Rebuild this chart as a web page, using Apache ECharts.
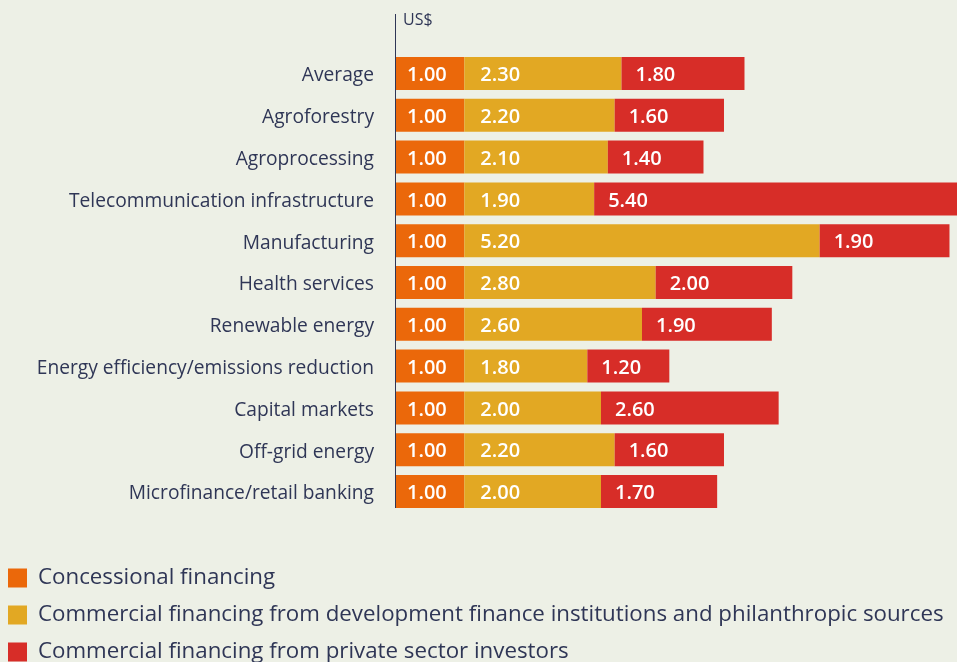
<!DOCTYPE html>
<html><head><meta charset="utf-8">
<script src="https://cdn.jsdelivr.net/npm/echarts@6/dist/echarts.min.js"></script>
<style>html,body{margin:0;padding:0;background:#edf0e6;}#c{width:957px;height:662px;}</style>
</head><body><div id="c"></div>
<script>
const categories = ["Average","Agroforestry","Agroprocessing","Telecommunication infrastructure","Manufacturing","Health services","Renewable energy","Energy efficiency/emissions reduction","Capital markets","Off-grid energy","Microfinance/retail banking"];
const concessional = [1.00,1.00,1.00,1.00,1.00,1.00,1.00,1.00,1.00,1.00,1.00];
const commercialDFI = [2.30,2.20,2.10,1.90,5.20,2.80,2.60,1.80,2.00,2.20,2.00];
const commercialPrivate = [1.80,1.60,1.40,5.40,1.90,2.00,1.90,1.20,2.60,1.60,1.70];
const seriesNames = ["Concessional financing","Commercial financing from development finance institutions and philanthropic sources","Commercial financing from private sector investors"];
const colors = ["#eb680a","#e2a823","#d72d28"];
const navy = "#2f3656";
const font = "'Open Sans', sans-serif";

const chart = echarts.init(document.getElementById('c'));
function mk(i, data, dist){
  return {
    name: seriesNames[i], type:'bar', stack:'t', data:data, barWidth:33,
    itemStyle:{color:colors[i]},
    label:{show:true, position:'insideLeft', distance:dist, offset:[0,2], color:'#fff', fontFamily:font, fontSize:20, fontWeight:600,
      formatter:p=>p.value.toFixed(2)},
    clip:true
  };
}
function lg(i, top){
  return {orient:'horizontal', left:8, top:top, padding:0, itemWidth:19, itemHeight:19, icon:'rect',
    textStyle:{color:navy, fontFamily:font, fontSize:22.3, lineHeight:19, padding:[0,0,0,6]},
    data:[seriesNames[i]]};
}
chart.setOption({
  backgroundColor:'#edf0e6',
  animation:false,
  grid:{left:396, right:0, top:52.6, bottom:149.6},
  xAxis:{type:'value', min:0, max:8.21, show:false},
  yAxis:{type:'category', data:categories, inverse:true,
    axisLine:{show:false}, axisTick:{show:false},
    axisLabel:{color:navy, fontFamily:font, fontSize:19.2, margin:22, verticalAlign:'top', lineHeight:5}},
  legend:[lg(0,567), lg(1,604), lg(2,641)],
  graphic:[
    {type:'line', shape:{x1:395.5,y1:14,x2:395.5,y2:508}, style:{stroke:navy, lineWidth:1}},
    {type:'text', left:403, top:12, style:{text:'US$', fill:navy, font:"16px 'Open Sans', sans-serif"}}
  ],
  series:[mk(0,concessional,11), mk(1,commercialDFI,16), mk(2,commercialPrivate,14)]
});
</script></body></html>
